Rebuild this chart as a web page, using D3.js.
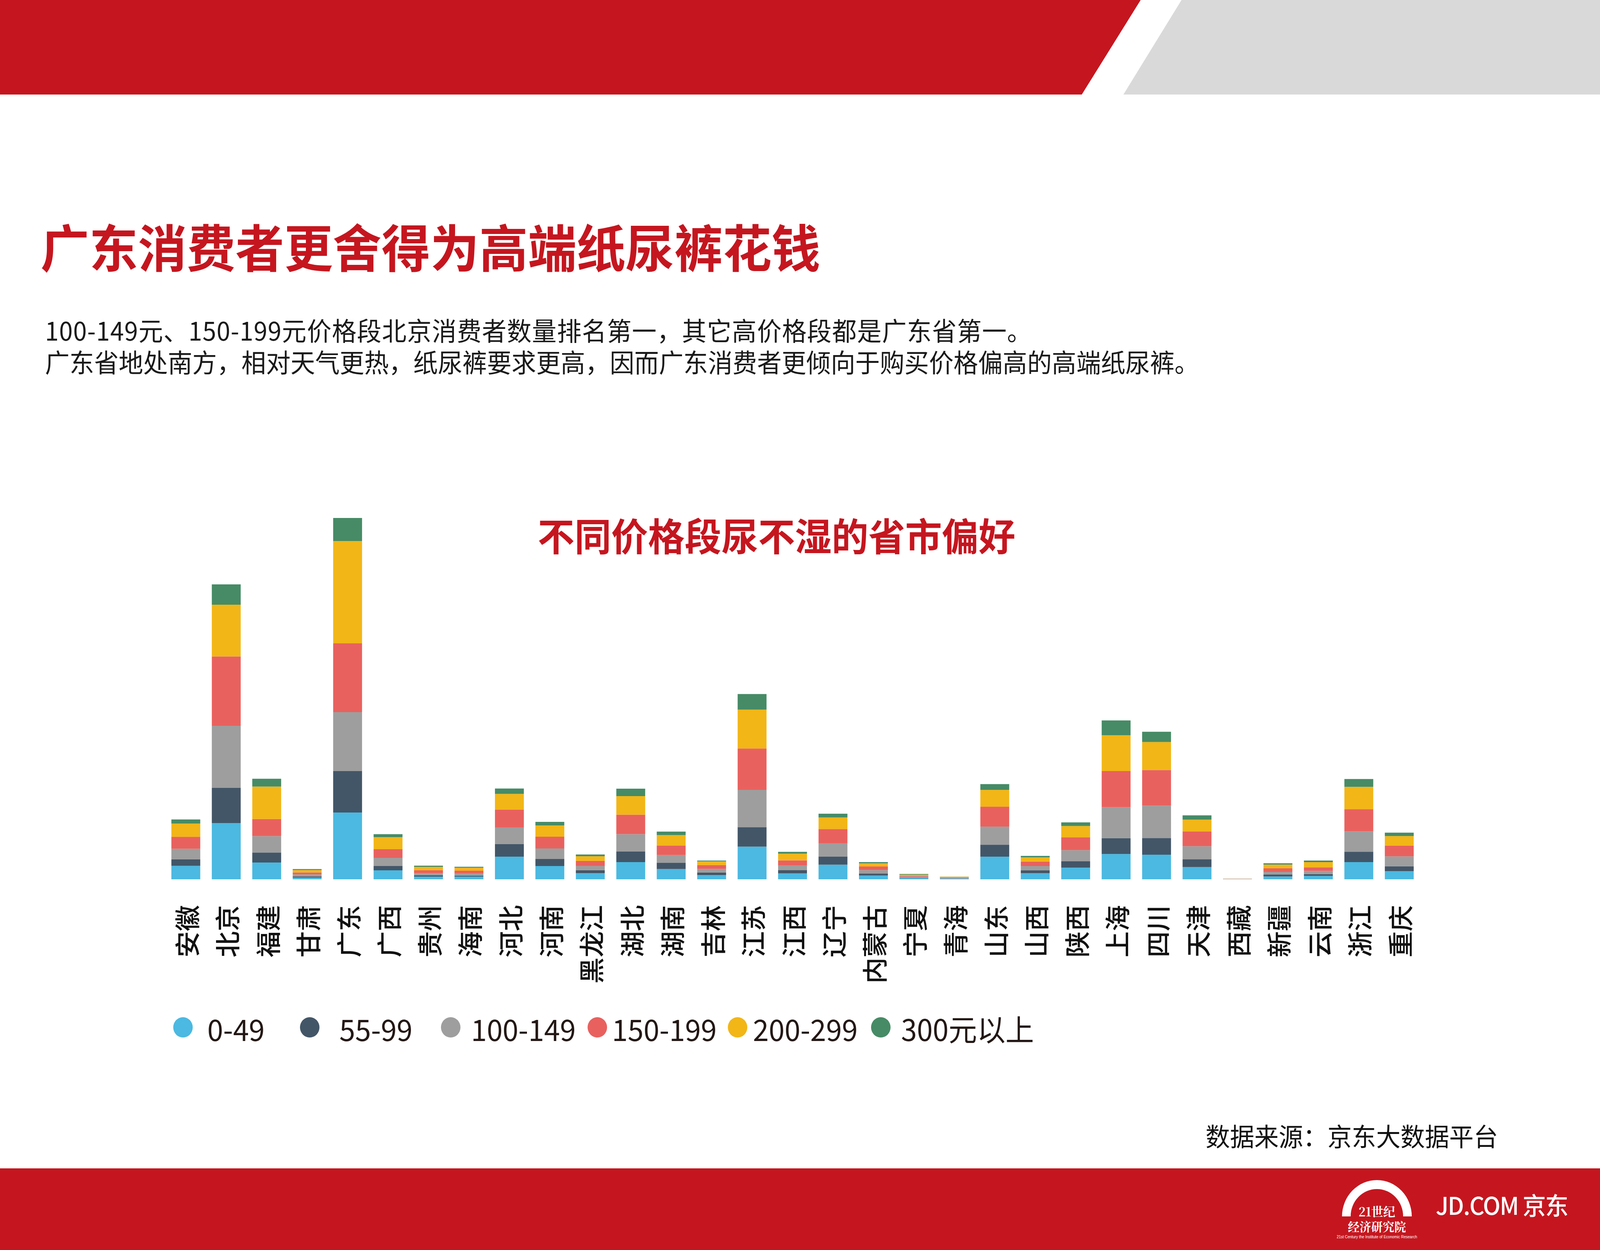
<!DOCTYPE html>
<html>
<head>
<meta charset="utf-8">
<script src="https://cdn.jsdelivr.net/npm/d3@7"></script>
<style>
  html, body { margin: 0; padding: 0; overflow: hidden; background: #fff; }
  svg { display: block; width: 100vw; height: 100vh; }
</style>
</head>
<body>
<div id="chart"></div>
<script>
// provinces along the x axis
const provinces = ["安徽", "北京", "福建", "甘肃", "广东", "广西", "贵州", "海南", "河北", "河南", "黑龙江",
  "湖北", "湖南", "吉林", "江苏", "江西", "辽宁", "内蒙古", "宁夏", "青海", "山东", "山西",
  "陕西", "上海", "四川", "天津", "西藏", "新疆", "云南", "浙江", "重庆"]

// price bands (stack order, bottom to top)
const priceBands = ["0-49", "55-99", "100-149", "150-199", "200-299", "300元以上"]

// relative number of consumers per band
const band0to49    = [34.4, 144, 43, 4.4, 171, 23, 7, 7, 58, 34, 15.6, 44, 26.3, 11, 83.6, 15.2, 37.4, 9.6, 3.3, 1.5, 58, 15.5, 30, 64.7, 63, 31.3, 0.3, 7.3, 8.7, 44, 20.7]
const band55to99   = [16.9, 90, 25.6, 3.1, 106, 11, 3, 2.5, 32.5, 18, 7.5, 27.5, 16.3, 6, 50, 8.5, 20.7, 5.2, 1.1, 0.8, 30.7, 7.4, 16, 40.7, 42.7, 19.7, 0.2, 4.7, 4.7, 26.7, 12.7]
const band100to149 = [26.9, 159, 42, 5, 151, 21, 5.6, 5.6, 42.5, 27, 11, 44, 19.6, 9.6, 95.4, 11.5, 34, 8.9, 2.2, 2, 46.2, 11.1, 28.7, 79.3, 82.7, 33.7, 0.6, 7, 8.3, 52, 25.3]
const band150to199 = [30.6, 177.5, 43.8, 5, 176, 22, 7.5, 7, 45, 30, 13, 50, 24.4, 10, 105.8, 13.3, 36.6, 9.2, 2.2, 1.2, 51, 11.1, 33, 92.3, 91.3, 38, 0.3, 9, 9, 57, 27.7]
const band200to299 = [33.8, 132.5, 83, 6.2, 262, 31, 8.8, 7.5, 40.6, 29, 12, 47.5, 26.6, 9.2, 99.5, 17, 29.6, 8.1, 3, 1.2, 43, 11.1, 28.7, 91.7, 71.7, 30, 0.2, 9.7, 13.3, 57, 24.3]
const band300plus  = [10.6, 52, 20, 2.5, 59, 7.5, 3, 2.5, 13.8, 9, 4.4, 19, 8.9, 2.2, 40, 4.8, 9.6, 3, 1.8, 0.3, 14.8, 3.7, 9.3, 38, 26.3, 11, 0.1, 3.3, 4, 20, 8.7]

const bandColors = ["#4bb9e1", "#435668", "#9e9e9e", "#e9615e", "#f2b617", "#468b66"]

const title = "广东消费者更舍得为高端纸尿裤花钱"
const noteLines = [
  "100-149元、150-199元价格段北京消费者数量排名第一，其它高价格段都是广东省第一。",
  "广东省地处南方，相对天气更热，纸尿裤要求更高，因而广东消费者更倾向于购买价格偏高的高端纸尿裤。"
]
const chartTitle = "不同价格段尿不湿的省市偏好"
const sourceText = "数据来源：京东大数据平台"

const width = 4267
const height = 3200
const red = "#c5161f"
const font = "'Noto Sans CJK SC', 'Noto Sans', sans-serif"

const baseY = 2251          // bar baseline, in pixels
const plotTop = 1251        // y for value 1000
const barLeft = 441.6
const barRight = 3785.6

// legend layout (circle centre / text start)
const legendCx = [488, 826, 1202, 1593, 1967, 2349]
const legendTx = [553, 905, 1256, 1632, 2008, 2403]
const legendY = 2630

const series = [band0to49, band55to99, band100to149, band150to199, band200to299, band300plus]
const rows = provinces.map((p, i) => {
  const r = { province: p }
  priceBands.forEach((b, j) => { r[b] = series[j][i] })
  return r
})

const svg = d3.select("#chart")
  .append("svg")
  .attr("viewBox", [0, 0, width, height])
  .attr("preserveAspectRatio", "none")

svg.append("rect").attr("width", width).attr("height", height).attr("fill", "#fff")

// header bands
svg.append("polygon")
  .attr("points", [[0, 0], [3042, 0], [2885, 242], [0, 242]].join(" "))
  .attr("fill", red)
svg.append("polygon")
  .attr("points", [[3151, 0], [width, 0], [width, 242], [2996, 242]].join(" "))
  .attr("fill", "#d9d9d9")

// footer band
svg.append("rect")
  .attr("x", 0).attr("y", 2991)
  .attr("width", width).attr("height", height - 2991)
  .attr("fill", red)

// titles and notes
svg.append("text")
  .attr("x", 108).attr("y", 627)
  .attr("dominant-baseline", "central")
  .attr("font-family", font).attr("font-weight", 700)
  .attr("font-size", 130).attr("fill", red)
  .text(title)

svg.append("text")
  .attr("font-family", font)
  .attr("font-size", 65.5)
  .attr("fill", "#1a1a1a")
  .selectAll("tspan")
  .data(noteLines)
  .join("tspan")
  .attr("x", 120)
  .attr("y", (d, i) => 872 + i * 81)
  .attr("letter-spacing", (d, i) => i === 0 ? 1.2 : 0)
  .text(d => d)

svg.append("text")
  .attr("x", 2071).attr("y", 1368)
  .attr("text-anchor", "middle")
  .attr("dominant-baseline", "central")
  .attr("font-family", font).attr("font-weight", 700)
  .attr("font-size", 98).attr("fill", red)
  .text(chartTitle)

// scales
const x = d3.scaleBand(provinces, [barLeft, barRight]).paddingInner(0.286).paddingOuter(0.143)
const y = d3.scaleLinear([0, 1000], [baseY, plotTop])

const stacked = d3.stack().keys(priceBands)(rows)

svg.append("g")
  .selectAll("g")
  .data(stacked)
  .join("g")
  .attr("fill", (d, i) => bandColors[i])
  .selectAll("rect")
  .data(d => d)
  .join("rect")
  .attr("x", d => x(d.data.province))
  .attr("y", d => y(d[1]))
  .attr("height", d => y(d[0]) - y(d[1]))
  .attr("width", x.bandwidth())

// x axis labels, rotated
const xAxis = d3.axisBottom(x).tickSize(0).tickPadding(0)
svg.append("g")
  .attr("transform", `translate(0,${baseY})`)
  .call(xAxis)
  .call(g => g.select(".domain").remove())
  .call(g => g.selectAll(".tick text")
    .attr("transform", "translate(0,66) rotate(-90)")
    .attr("x", 0).attr("y", 0).attr("dy", null)
    .attr("text-anchor", "end")
    .attr("dominant-baseline", "central")
    .attr("font-family", font)
    .attr("font-weight", 500)
    .attr("font-size", 67)
    .attr("fill", "#111"))

// legend
const legend = svg.append("g")
  .selectAll("g")
  .data(priceBands)
  .join("g")
legend.append("circle")
  .attr("cx", (d, i) => legendCx[i])
  .attr("cy", legendY)
  .attr("r", 26)
  .attr("fill", (d, i) => bandColors[i])
legend.append("text")
  .attr("x", (d, i) => legendTx[i])
  .attr("y", legendY + 2)
  .attr("dominant-baseline", "central")
  .attr("font-family", font)
  .attr("font-size", 76)
  .attr("fill", "#231815")
  .text(d => d)

// source
svg.append("text")
  .attr("x", 3995).attr("y", 2905)
  .attr("text-anchor", "end")
  .attr("dominant-baseline", "central")
  .attr("font-family", font)
  .attr("font-size", 65)
  .attr("fill", "#111")
  .text(sourceText)

// footer logos
const logo = svg.append("g").attr("transform", "translate(3672,3114)")
logo.append("path")
  .attr("d", d3.arc()({ innerRadius: 70, outerRadius: 93, startAngle: -Math.PI / 2, endAngle: Math.PI / 2 }))
  .attr("fill", "#fff")
const logoText = logo.append("text")
  .attr("text-anchor", "middle")
  .attr("font-family", "'Noto Serif CJK SC', 'Noto Sans CJK SC', serif")
  .attr("font-weight", 700)
  .attr("fill", "#fff")
logoText.append("tspan").attr("x", 0).attr("y", 0).attr("font-size", 32).text("21世纪")
logoText.append("tspan").attr("x", 0).attr("y", 38).attr("font-size", 31).text("经济研究院")
logoText.append("tspan").attr("x", 0).attr("y", 56)
  .attr("font-family", "'Liberation Sans Narrow', 'Liberation Sans', sans-serif")
  .attr("font-weight", 400)
  .attr("font-size", 10)
  .text("21st Century the Institute of Economic Research")

svg.append("text")
  .attr("x", 3829).attr("y", 3083)
  .attr("dominant-baseline", "central")
  .attr("font-family", font)
  .attr("font-weight", 500)
  .attr("font-size", 62)
  .attr("letter-spacing", -2)
  .attr("fill", "#fff")
  .text("JD.COM 京东")
</script>
</body>
</html>
